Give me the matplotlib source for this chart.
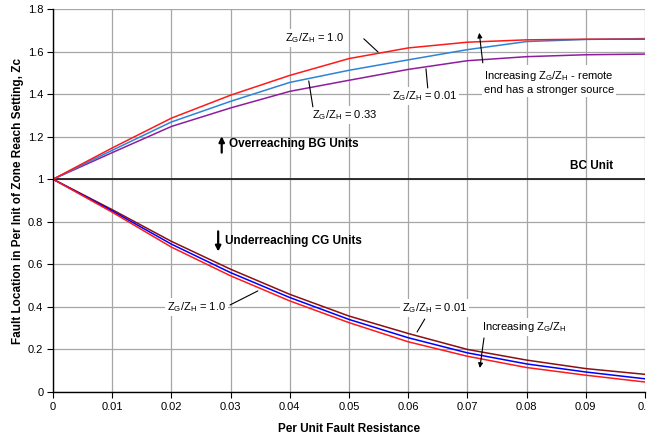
import matplotlib
matplotlib.use("Agg")
import matplotlib.pyplot as plt

plt.rcParams['font.family'] = ['Liberation Sans', 'DejaVu Sans']
plt.rcParams['mathtext.default'] = 'regular'

# Data
resistance = [0, 0.01, 0.02, 0.03, 0.04, 0.05, 0.06, 0.07, 0.08, 0.09, 0.1]
bg_ratio_1_0 = [1, 1.147, 1.287, 1.395, 1.488, 1.567, 1.617, 1.644, 1.655, 1.658, 1.658]
bg_ratio_0_33 = [1, 1.136, 1.269, 1.366, 1.455, 1.512, 1.561, 1.609, 1.647, 1.657, 1.661]
bg_ratio_0_01 = [1, 1.125, 1.248, 1.335, 1.413, 1.465, 1.516, 1.557, 1.576, 1.585, 1.588]
cg_ratio_1_0 = [1, 0.845, 0.681, 0.546, 0.428, 0.326, 0.236, 0.168, 0.115, 0.079, 0.047]
cg_ratio_0_33 = [1, 0.851, 0.695, 0.561, 0.444, 0.341, 0.255, 0.184, 0.132, 0.094, 0.062]
cg_ratio_0_01 = [1, 0.857, 0.708, 0.577, 0.459, 0.357, 0.275, 0.200, 0.150, 0.110, 0.083]
bc_unit = [1] * len(resistance)

x_ticks = [0, 0.01, 0.02, 0.03, 0.04, 0.05, 0.06, 0.07, 0.08, 0.09, 0.1]
x_tick_labels = ["0", "0.01", "0.02", "0.03", "0.04", "0.05", "0.06", "0.07", "0.08", "0.09", "0.1"]
y_ticks = [0, 0.2, 0.4, 0.6, 0.8, 1.0, 1.2, 1.4, 1.6, 1.8]
y_tick_labels = ["0", "0.2", "0.4", "0.6", "0.8", "1", "1.2", "1.4", "1.6", "1.8"]

fig = plt.figure(figsize=(6.47, 4.38), dpi=100)
ax = fig.add_axes([53/647, 1-392/438, 592/647, 383/438])

ax.set_xlim(0, 0.1)
ax.set_ylim(0, 1.8)
ax.set_xticks(x_ticks)
ax.set_xticklabels(x_tick_labels)
ax.set_yticks(y_ticks)
ax.set_yticklabels(y_tick_labels)
ax.tick_params(direction='out', length=4, width=0.8, labelsize=8, colors='black', pad=3)
ax.grid(True, color='#a6a6a6', linewidth=0.9)
ax.set_axisbelow(True)
for s in ['top', 'right']:
    ax.spines[s].set_visible(False)
for s in ['left', 'bottom']:
    ax.spines[s].set_linewidth(1.0)

ax.plot(resistance, bc_unit, color='#202020', lw=1.3)
ax.plot(resistance, bg_ratio_0_01, color='#8e1d9e', lw=1.1)
ax.plot(resistance, bg_ratio_0_33, color='#2c84d8', lw=1.1)
ax.plot(resistance, bg_ratio_1_0, color='#ff1a1a', lw=1.1)
ax.plot(resistance, cg_ratio_0_01, color='#8b1010', lw=1.1)
ax.plot(resistance, cg_ratio_0_33, color='#0000ff', lw=1.1)
ax.plot(resistance, cg_ratio_1_0, color='#ff1a1a', lw=1.1)

ax.set_xlabel('Per Unit Fault Resistance', fontsize=8.5, fontweight='bold', labelpad=8)
ax.set_ylabel('Fault Location in Per Init of Zone Reach Setting, Zc', fontsize=8.5,
              fontweight='bold', labelpad=3)

box = dict(facecolor='white', edgecolor='none', pad=1.5)
fs = 8
line_kw = dict(arrowstyle='-', color='black', lw=0.8, shrinkA=0, shrinkB=0)
arrow_kw = dict(arrowstyle='-|>', color='black', lw=0.8, shrinkA=0, shrinkB=0, mutation_scale=7)
bold_arrow_kw = dict(arrowstyle='-|>', color='black', lw=1.6, shrinkA=0, shrinkB=0, mutation_scale=8)

# Upper annotations
ax.text(0.0441, 1.664, 'Z$_G$/Z$_H$ = 1.0', fontsize=fs, ha='center', va='center', bbox=box)
ax.annotate('', xy=(0.0549, 1.598), xytext=(0.0525, 1.660), arrowprops=line_kw)
ax.text(0.0493, 1.302, 'Z$_G$/Z$_H$ = 0.33', fontsize=fs, ha='center', va='center', bbox=box)
ax.annotate('', xy=(0.0432, 1.462), xytext=(0.0439, 1.340), arrowprops=line_kw)
ax.text(0.0627, 1.392, 'Z$_G$/Z$_H$ = 0.01', fontsize=fs, ha='center', va='center', bbox=box)
ax.annotate('', xy=(0.0630, 1.519), xytext=(0.0633, 1.429), arrowprops=line_kw)
ax.text(0.0728, 1.457, 'Increasing Z$_G$/Z$_H$ - remote\nend has a stronger source',
        fontsize=fs, ha='left', va='center', bbox=box, linespacing=1.25)
ax.annotate('', xy=(0.0720, 1.688), xytext=(0.0726, 1.547), arrowprops=arrow_kw)

ax.annotate('', xy=(0.0285, 1.202), xytext=(0.0285, 1.125), arrowprops=bold_arrow_kw)
ax.text(0.0298, 1.166, 'Overreaching BG Units', fontsize=8.5, fontweight='bold',
        ha='left', va='center')
ax.text(0.0873, 1.062, 'BC Unit', fontsize=8.5, fontweight='bold', ha='left', va='center')
ax.annotate('', xy=(0.0279, 0.660), xytext=(0.0279, 0.755), arrowprops=bold_arrow_kw)
ax.text(0.0290, 0.710, 'Underreaching CG Units', fontsize=8.5, fontweight='bold',
        ha='left', va='center')

# Lower annotations
ax.text(0.0242, 0.400, 'Z$_G$/Z$_H$ = 1.0', fontsize=fs, ha='center', va='center', bbox=box)
ax.annotate('', xy=(0.0346, 0.475), xytext=(0.0299, 0.409), arrowprops=line_kw)
ax.text(0.0644, 0.395, 'Z$_G$/Z$_H$ = 0.01', fontsize=fs, ha='center', va='center', bbox=box)
ax.annotate('', xy=(0.0628, 0.343), xytext=(0.0615, 0.282), arrowprops=line_kw)
ax.text(0.0725, 0.306, 'Increasing Z$_G$/Z$_H$', fontsize=fs, ha='left', va='center', bbox=box)
ax.annotate('', xy=(0.0721, 0.113), xytext=(0.0728, 0.254), arrowprops=arrow_kw)

fig.savefig('out.png', dpi=100)
